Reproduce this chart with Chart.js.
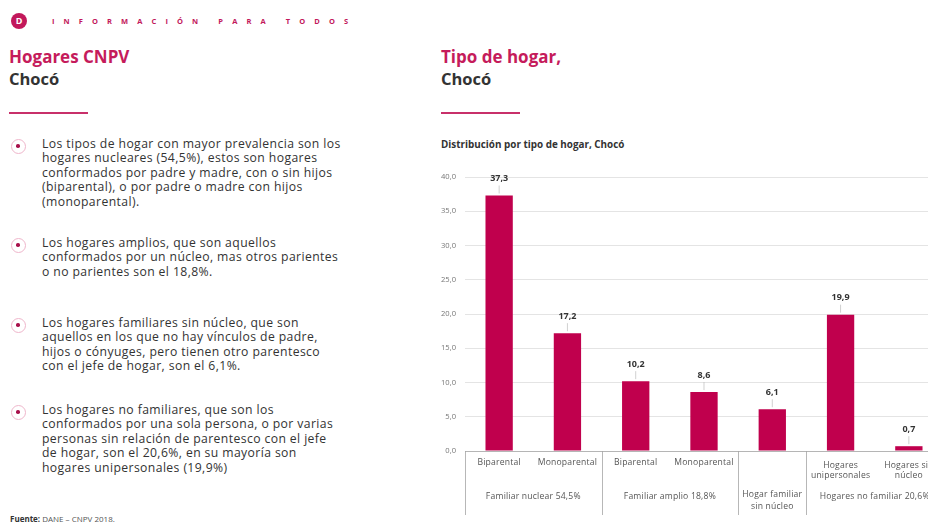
<!DOCTYPE html>
<html>
<head>
<meta charset="utf-8">
<script src="https://cdn.jsdelivr.net/npm/chart.js@4"></script>
<style>
  html, body { margin: 0; padding: 0; width: 928px; height: 523px; overflow: hidden; background: #fff; font-family: "Open Sans", sans-serif; }
  .abs { position: absolute; }
  .logo { left: 11px; top: 13px; width: 16px; height: 16px; border-radius: 50%; background: #c2185b; color: #fff; font: bold 9px "Open Sans"; text-align: center; line-height: 16px; }
  .brand { left: 52px; top: 16px; font: bold 7.5px "Open Sans"; letter-spacing: 9.1px; color: #c2185b; white-space: nowrap; }
  .t1 { font: bold 17px "Open Sans"; color: #c51b5b; line-height: 21px; }
  .t2 { font: bold 16.5px "Open Sans"; color: #333; line-height: 21px; }
  .rule { height: 2px; width: 79px; background: #c8306a; }
  .bul { left: 42px; font-size: 12.2px; letter-spacing: 0.4px; line-height: 14.4px; color: #333; white-space: nowrap; }
  .dot { left: 11px; width: 15px; height: 15px; border-radius: 50%; border: 1.6px solid #efb6cb; box-sizing: border-box; }
  .dot::after { content: ""; position: absolute; left: 4.2px; top: 4.2px; width: 3.5px; height: 3.5px; border-radius: 50%; background: #a8104b; }
  .src { left: 10px; top: 513px; font-size: 8px; color: #555; }
  .sub { left: 441px; top: 137px; font: bold 9.9px "Open Sans"; color: #333; }
  #box { position: absolute; left: 410px; top: 160px; width: 545px; height: 363px; }
</style>
</head>
<body>
<div class="abs logo">D</div>
<div class="abs brand">INFORMACIÓN PARA TODOS</div>

<div class="abs t1" style="left:9px; top:46px;">Hogares CNPV</div>
<div class="abs t2" style="left:9px; top:68px;">Chocó</div>
<div class="abs rule" style="left:9px; top:112px;"></div>

<div class="abs dot" style="top:139px;"></div>
<div class="abs bul" style="top:137px;">Los tipos de hogar con mayor prevalencia son los<br>hogares nucleares (54,5%), estos son hogares<br>conformados por padre y madre, con o sin hijos<br>(biparental), o por padre o madre con hijos<br>(monoparental).</div>
<div class="abs dot" style="top:238px;"></div>
<div class="abs bul" style="top:236px;">Los hogares amplios, que son aquellos<br>conformados por un núcleo, mas otros parientes<br>o no parientes son el 18,8%.</div>
<div class="abs dot" style="top:318px;"></div>
<div class="abs bul" style="top:316px;">Los hogares familiares sin núcleo, que son<br>aquellos en los que no hay vínculos de padre,<br>hijos o cónyuges, pero tienen otro parentesco<br>con el jefe de hogar, son el 6,1%.</div>
<div class="abs dot" style="top:405px;"></div>
<div class="abs bul" style="top:403px;">Los hogares no familiares, que son los<br>conformados por una sola persona, o por varias<br>personas sin relación de parentesco con el jefe<br>de hogar, son el 20,6%, en su mayoría son<br>hogares unipersonales (19,9%)</div>
<div class="abs src"><b style="color:#333">Fuente:</b> DANE – CNPV 2018.</div>

<div class="abs t1" style="left:441px; top:46px;">Tipo de hogar,</div>
<div class="abs t2" style="left:441px; top:68px;">Chocó</div>
<div class="abs rule" style="left:441px; top:112px;"></div>
<div class="abs sub">Distribución por tipo de hogar, Chocó</div>

<div id="box"><canvas id="chart"></canvas></div>

<script>
const categories = [["Biparental"], ["Monoparental"], ["Biparental"], ["Monoparental"], [""], ["Hogares", "unipersonales"], ["Hogares sin", "núcleo"]];
const values = [37.3, 17.2, 10.2, 8.6, 6.1, 19.9, 0.7];
const groupLabels = [["Familiar nuclear 54,5%"], ["Familiar amplio 18,8%"], ["Hogar familiar", "sin núcleo"], ["Hogares no familiar 20,6%"]];
const groupSizes = [2, 2, 1, 2];
const yTicks = [0, 5, 10, 15, 20, 25, 30, 35, 40];

const fmt = v => v.toFixed(1).replace('.', ',');

const valueLabels = {
  id: 'valueLabels',
  afterDatasetsDraw(chart) {
    const ctx = chart.ctx;
    const meta = chart.getDatasetMeta(0);
    ctx.save();
    ctx.font = 'bold 9px "Open Sans"';
    ctx.fillStyle = '#333';
    ctx.textAlign = 'center';
    ctx.textBaseline = 'middle';
    meta.data.forEach((bar, i) => {
      ctx.strokeStyle = '#bbb';
      ctx.lineWidth = 0.7;
      ctx.beginPath();
      ctx.moveTo(bar.x, bar.y - 2);
      ctx.lineTo(bar.x, bar.y - 10);
      ctx.stroke();
      ctx.fillText(fmt(values[i]), bar.x, bar.y - 17);
    });
    ctx.restore();
  }
};

const groupAxis = {
  id: 'groupAxis',
  afterDraw(chart) {
    const ctx = chart.ctx;
    const x = chart.scales.x;
    const bottom = chart.chartArea.bottom;
    const step = x.getPixelForValue(1) - x.getPixelForValue(0);
    ctx.save();
    ctx.strokeStyle = '#b5b5b5';
    ctx.lineWidth = 1;
    ctx.beginPath();
    ctx.moveTo(chart.chartArea.left, bottom + 0.5);
    ctx.lineTo(chart.chartArea.right, bottom + 0.5);
    ctx.stroke();
    ctx.font = '8.6px "Open Sans"';
    ctx.letterSpacing = '0.2px';
    ctx.fillStyle = '#555';
    ctx.textAlign = 'center';
    ctx.textBaseline = 'middle';
    categories.forEach((lines, i) => {
      const cx = x.getPixelForValue(i);
      const y0 = lines.length > 1 ? bottom + 15 : bottom + 12;
      lines.forEach((t, k) => ctx.fillText(t, cx, y0 + k * 10));
    });
    let start = 0;
    const edges = [start];
    groupSizes.forEach((n, g) => {
      const l = x.getPixelForValue(start) - step / 2;
      const r = x.getPixelForValue(start + n - 1) + step / 2;
      const lines = groupLabels[g];
      const y0 = lines.length > 1 ? bottom + 44 : bottom + 46;
      lines.forEach((t, k) => ctx.fillText(t, (l + r) / 2, y0 + k * 12));
      start += n;
      edges.push(start);
    });
    ctx.strokeStyle = '#a5a5a5';
    ctx.lineWidth = 0.8;
    edges.forEach(e => {
      const px = Math.round(x.getPixelForValue(e) - step / 2) + 0.5;
      ctx.beginPath();
      ctx.moveTo(px, bottom);
      ctx.lineTo(px, bottom + 64);
      ctx.stroke();
    });
    ctx.restore();
  }
};

new Chart(document.getElementById('chart'), {
  type: 'bar',
  data: {
    labels: categories.map(c => c.join(' ')),
    datasets: [{ data: values, backgroundColor: '#c0004d', barPercentage: 0.4, categoryPercentage: 1 }]
  },
  options: {
    responsive: true,
    maintainAspectRatio: false,
    animation: false,
    layout: { padding: { top: 17, right: 12, bottom: 64, left: 0 } },
    plugins: { legend: { display: false }, tooltip: { enabled: false } },
    scales: {
      x: { grid: { display: false }, border: { display: false }, ticks: { display: false } },
      y: {
        min: 0, max: 40,
        afterBuildTicks: s => { s.ticks = yTicks.map(v => ({ value: v })); },
        afterFit: s => { s.width = 55; },
        grid: { color: '#e4e4e4', drawTicks: false },
        border: { display: false },
        ticks: { color: '#777', font: { size: 7.6, family: 'Open Sans' }, padding: 9, callback: v => fmt(v) }
      }
    }
  },
  plugins: [valueLabels, groupAxis]
});
</script>
</body>
</html>
